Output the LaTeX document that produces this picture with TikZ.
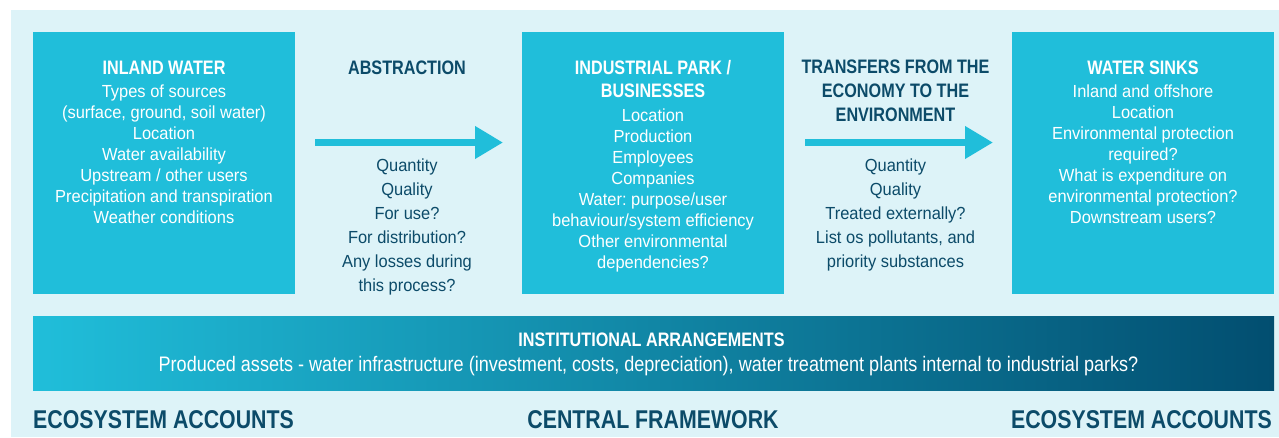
\documentclass[tikz,border=0pt]{standalone}
\usepackage{fontspec}
\usetikzlibrary{arrows.meta}
\newfontfamily\bodyfont{Liberation Sans}[FakeStretch=0.94]
\newfontfamily\barfont{Liberation Sans}[FakeStretch=0.86]
\newfontfamily\headfont{Liberation Sans}[FakeStretch=0.83]
\definecolor{boxcyan}{RGB}{32,190,218}
\definecolor{panelbg}{RGB}{221,243,248}
\definecolor{darkteal}{RGB}{12,75,105}
\definecolor{barmid}{RGB}{0,162,197}
\definecolor{barend}{RGB}{2,78,112}
\newcommand{\mylines}[1]{\begin{tabular}[t]{@{}c@{}}#1\end{tabular}}
\frenchspacing
\begin{document}
\begin{tikzpicture}[x=1pt,y=-1pt,
  box/.style={fill=boxcyan, draw=none, minimum width=262pt, minimum height=262pt, inner sep=0pt},
  headw/.style={anchor=base, inner sep=0pt, text=white, font=\headfont\bfseries\fontsize{19.5}{23.4}\selectfont},
  headd/.style={anchor=base, inner sep=0pt, text=darkteal, font=\headfont\bfseries\fontsize{19.5}{24}\selectfont},
  bodyw/.style={anchor=base, inner sep=0pt, text=white, font=\bodyfont\fontsize{17.5}{21}\selectfont},
  bodyd/.style={anchor=base, inner sep=0pt, text=darkteal, font=\bodyfont\fontsize{17.5}{24}\selectfont},
  barbody/.style={anchor=base, inner sep=0pt, text=white, font=\barfont\fontsize{21}{24}\selectfont},
  footer/.style={anchor=base, inner sep=0pt, text=darkteal, font=\headfont\bfseries\fontsize{25.7}{30}\selectfont},
  bigarrow/.style={draw=boxcyan, line width=7pt, -{Triangle[length=28pt, width=31pt]}}
]
\useasboundingbox (0,0) rectangle (1279,437);
\fill[white] (0,0) rectangle (1279,437);
\fill[panelbg] (11,10) rectangle (1279,437);

% boxes
\node[box] (inland) at (164,163) {};
\node[box] (park) at (653,163) {};
\node[box] (sinks) at (1143,163) {};

% box texts
\node[headw] (inlandT) at (164,74) {\mylines{INLAND WATER}};
\node[bodyw] (inlandB) at (164,97.5) {\mylines{Types of sources\\(surface, ground, soil water)\\Location\\Water availability\\Upstream / other users\\Precipitation and transpiration\\Weather conditions}};

\node[headw] (parkT) at (653,74) {\mylines{INDUSTRIAL PARK /\\BUSINESSES}};
\node[bodyw] (parkB) at (653,121.7) {\mylines{Location\\Production\\Employees\\Companies\\Water: purpose/user\\behaviour/system efficiency\\Other environmental\\dependencies?}};

\node[headw] (sinksT) at (1143,74) {\mylines{WATER SINKS}};
\node[bodyw] (sinksB) at (1143,97.3) {\mylines{Inland and offshore\\Location\\Environmental protection\\required?\\What is expenditure on\\environmental protection?\\Downstream users?}};

% arrows
\coordinate (a1s) at (315,142.5);
\coordinate (a1e) at (503,142.5);
\coordinate (a2s) at (805,142.5);
\coordinate (a2e) at (993,142.5);
\draw[bigarrow] (a1s) -- (a1e);
\draw[bigarrow] (a2s) -- (a2e);

\node[headd] (absT) at (407,74) {\mylines{ABSTRACTION}};
\node[bodyd] (absB) at (407,171) {\mylines{Quantity\\Quality\\For use?\\For distribution?\\Any losses during\\this process?}};

\node[headd] (trT) at (895.5,73.5) {\mylines{TRANSFERS FROM THE\\ECONOMY TO THE\\ENVIRONMENT}};
\node[bodyd] (trB) at (895.5,171) {\mylines{Quantity\\Quality\\Treated externally?\\List os pollutants, and\\priority substances}};

% institutional bar
\node[draw=none, inner sep=0pt, minimum width=1241pt, minimum height=74pt,
      left color=boxcyan, middle color=barmid, right color=barend] (inst) at (653.5,353) {};
\node[headw] (instT) at (651.5,346) {INSTITUTIONAL ARRANGEMENTS};
\node[barbody] (instB) at (648.5,371.7) {Produced assets - water infrastructure (investment, costs, depreciation), water treatment plants internal to industrial parks?};

% footers
\node[footer, anchor=base west] (ecoL) at (33,428) {ECOSYSTEM ACCOUNTS};
\node[footer] (central) at (653,428) {CENTRAL FRAMEWORK};
\node[footer, anchor=base east] (ecoR) at (1272,428) {ECOSYSTEM ACCOUNTS};
\end{tikzpicture}
\end{document}
